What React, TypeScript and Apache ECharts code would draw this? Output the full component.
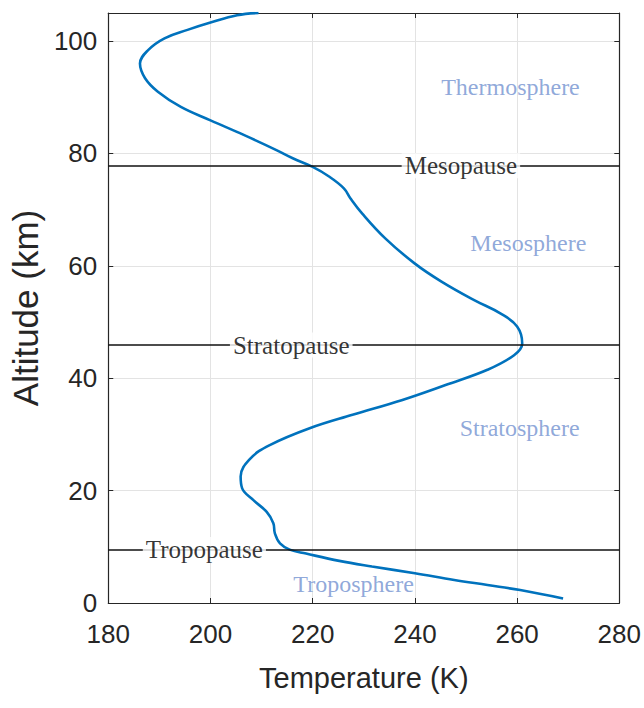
import React, { useEffect, useRef } from "react";
import * as echarts from "echarts";

const temperature = [
  209.4, 205.2, 200, 195.5, 191, 187.8, 186.2, 187.2, 189.7, 194.2, 200, 206.5, 212.9, 216.2,
  220, 223.2, 226.1, 227.4, 229.7, 234.2, 240, 245.2, 251.6, 256.8, 260, 261, 259.4, 254.2,
  246, 237.4, 227.8, 219.4, 211.6, 207.8, 205.9, 206.2, 208.4, 211, 212.3, 212.6, 213.6,
  215.5, 218.7, 225.2, 231.6, 240, 247.7, 254.2, 260.6, 269,
];
const altitude = [
  105, 104.6, 103.3, 102, 100.5, 98.4, 96, 93.4, 91, 88.3, 85.9, 83.3, 80.6, 79.1,
  77.6, 75.9, 73.8, 72, 69.3, 64.9, 60.4, 57.2, 53.9, 51.5, 49.2, 46.2, 44.1, 41.5,
  38.8, 36.1, 33.5, 31.1, 28.1, 25.7, 22.5, 20.4, 18.3, 16.2, 14.2, 12.4, 10.6,
  9.5, 8.8, 7.5, 6.5, 5.3, 4.1, 3.2, 2.3, 0.8,
];

const boundaryNames = ["Mesopause", "Stratopause", "Tropopause"];
const boundaryAltitudes = [77.8, 45.9, 9.5];
const boundaryLabelTemps = [249, 215.8, 198.8];

const layerNames = ["Thermosphere", "Mesosphere", "Stratosphere", "Troposphere"];
const layerTemps = [258.7, 262.2, 260.5, 228];
const layerAltitudes = [91.8, 64.1, 31.1, 3.4];

const xTicks = [180, 200, 220, 240, 260, 280];
const yTicks = [0, 20, 40, 60, 80, 100];

export default function App() {
  const ref = useRef<HTMLDivElement>(null);
  useEffect(() => {
    if (!ref.current) return;
    const chart = echarts.init(ref.current, undefined, { renderer: "svg" });
    const sans = "'Liberation Sans', Arial, sans-serif";
    const serif = "'Liberation Serif', 'Times New Roman', serif";
    const gridColor = "#e3e3e3";
    const axisColor = "#262626";
    chart.setOption({
      animation: false,
      backgroundColor: "#ffffff",
      grid: { left: 104, right: 23, top: 13, bottom: 105 },
      xAxis: [
        {
          type: "value",
          min: xTicks[0],
          max: xTicks[xTicks.length - 1],
          interval: 20,
          name: "Temperature (K)",
          nameLocation: "middle",
          nameGap: 60,
          nameTextStyle: { fontFamily: sans, fontSize: 29, color: axisColor },
          axisLine: { show: true, onZero: false, lineStyle: { color: axisColor, width: 1.2 } },
          axisTick: { show: true, inside: true, length: 5, lineStyle: { color: axisColor } },
          axisLabel: { fontFamily: sans, fontSize: 26, color: axisColor, margin: 18 },
          splitLine: { show: true, lineStyle: { color: gridColor, width: 1 } },
        },
        {
          type: "value",
          position: "top",
          min: xTicks[0],
          max: xTicks[xTicks.length - 1],
          interval: 20,
          axisLine: { show: true, onZero: false, lineStyle: { color: axisColor, width: 1.2 } },
          axisTick: { show: true, inside: true, length: 5, lineStyle: { color: axisColor } },
          axisLabel: { show: false },
          splitLine: { show: false },
        },
      ],
      yAxis: [
        {
          type: "value",
          min: 0,
          max: 105,
          interval: 20,
          name: "Altitude (km)",
          nameLocation: "middle",
          nameGap: 55,
          nameTextStyle: { fontFamily: sans, fontSize: 35, color: axisColor },
          axisLine: { show: true, onZero: false, lineStyle: { color: axisColor, width: 1.2 } },
          axisTick: { show: true, inside: true, length: 5, lineStyle: { color: axisColor } },
          axisLabel: {
            fontFamily: sans,
            fontSize: 26,
            color: axisColor,
            margin: 11,
            showMaxLabel: false,
            formatter: (v: number) => (yTicks.includes(v) ? String(v) : ""),
          },
          splitLine: { show: true, lineStyle: { color: gridColor, width: 1 } },
        },
        {
          type: "value",
          position: "right",
          min: 0,
          max: 105,
          interval: 20,
          axisLine: { show: true, onZero: false, lineStyle: { color: axisColor, width: 1.2 } },
          axisTick: { show: true, inside: true, length: 5, lineStyle: { color: axisColor } },
          axisLabel: { show: false },
          splitLine: { show: false },
        },
      ],
      series: [
        {
          type: "line",
          xAxisIndex: 0,
          yAxisIndex: 0,
          data: temperature.map((t, i) => [t, altitude[i]]),
          showSymbol: false,
          smooth: 0.4,
          lineStyle: { color: "#0072BD", width: 2.6 },
          z: 3,
          markLine: {
            silent: true,
            symbol: "none",
            label: { show: false },
            lineStyle: { color: "#111111", width: 1.6, type: "solid" },
            data: boundaryAltitudes.map((a) => ({ yAxis: a })),
            z: 4,
          },
        },
        {
          type: "scatter",
          xAxisIndex: 0,
          yAxisIndex: 0,
          symbolSize: 0,
          z: 6,
          data: boundaryNames.map((n, i) => ({
            value: [boundaryLabelTemps[i], boundaryAltitudes[i]],
            name: n,
          })),
          label: {
            show: true,
            position: "inside",
            formatter: (p: any) => p.name,
            fontFamily: serif,
            fontSize: 25,
            color: "#000000",
            backgroundColor: "#ffffff",
            padding: [0, 3],
          },
        },
        {
          type: "scatter",
          xAxisIndex: 0,
          yAxisIndex: 0,
          symbolSize: 0,
          z: 5,
          data: layerNames.map((n, i) => ({
            value: [layerTemps[i], layerAltitudes[i]],
            name: n,
          })),
          label: {
            show: true,
            position: "inside",
            formatter: (p: any) => p.name,
            fontFamily: serif,
            fontSize: 24,
            color: "#7392d0",
          },
        },
      ],
    });
    return () => chart.dispose();
  }, []);
  return <div ref={ref} style={{ width: 644, height: 708, position: "absolute", left: 0, top: 0 }} />;
}
